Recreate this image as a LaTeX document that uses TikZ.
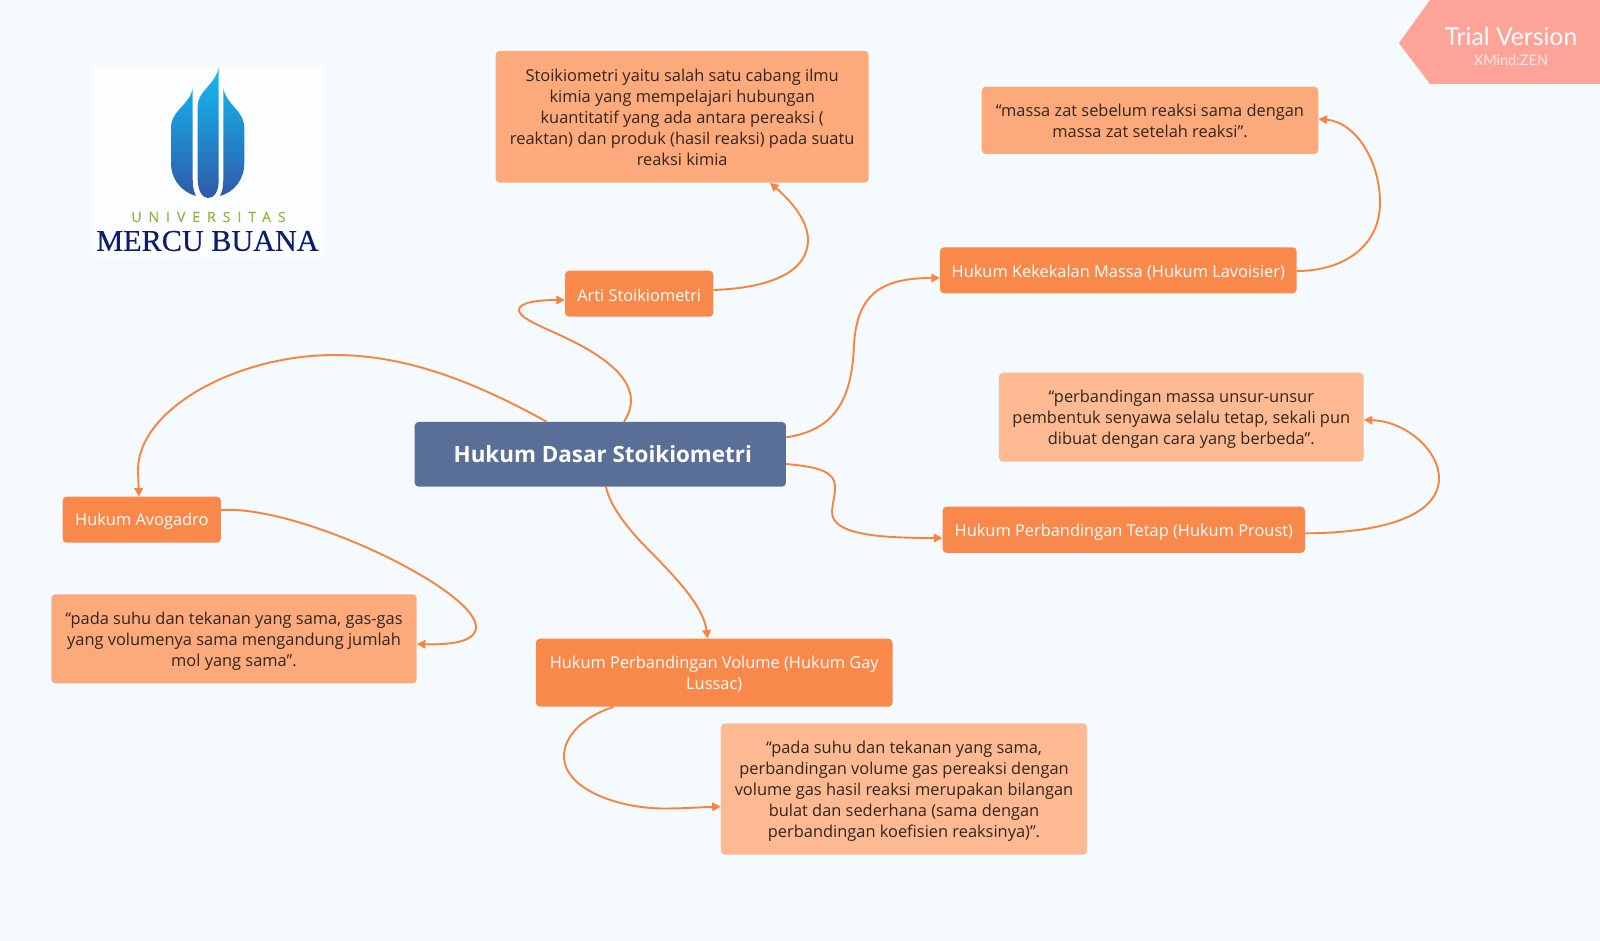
\documentclass[tikz,border=0pt]{standalone}
\usepackage{fontspec}
\usepackage{xcolor}
\setmainfont{Open Sans}
\newfontfamily\trialfont{Lato}
\newfontfamily\uniffont[LetterSpace=50,FakeBold=0.6]{Open Sans}
\newfontfamily\mercufont[FakeBold=0.5]{Liberation Serif}
\usetikzlibrary{arrows.meta,calc}
\definecolor{pagebg}{HTML}{F5FAFF}
\definecolor{rootblue}{HTML}{596F98}
\definecolor{subor}{HTML}{F9884B}
\definecolor{noteor}{HTML}{FCA97B}
\definecolor{notepale}{HTML}{FCB992}
\definecolor{linkor}{HTML}{F9833B}
\definecolor{inkbrown}{HTML}{33261E}
\definecolor{trialred}{HTML}{FDA399}
\definecolor{flametop}{HTML}{12BCF4}
\definecolor{flamemid}{HTML}{0F70BC}
\definecolor{flamelow}{HTML}{2F5AA8}
\definecolor{unigreen}{HTML}{8DBB3C}
\definecolor{mercunavy}{HTML}{0D1F6C}
\begin{document}
\begin{tikzpicture}[
            x=1pt, y=-1pt,
            rootbox/.style={fill=rootblue, text=white, rounded corners=4pt, inner sep=0pt, align=center,
              font=\fontsize{22.4}{30}\selectfont\bfseries},
            subbox/.style={fill=subor, text=white, rounded corners=4pt, inner sep=0pt, align=center,
              font=\fontsize{16.4}{21}\selectfont, execute at begin node={\rule{0pt}{16.5pt}}},
            notebox/.style={fill=noteor, text=inkbrown, rounded corners=4pt, inner sep=0pt, align=center,
              font=\fontsize{16.4}{21}\selectfont, text depth=0pt},
            palebox/.style={notebox, fill=notepale},
            link/.style={draw=linkor, line width=1.9pt, -{Triangle[length=8.5pt,width=8.5pt]}},
          ]
          \fill[pagebg] (0,0) rectangle (1600,941);
          \useasboundingbox (0,0) rectangle (1600,941);

          \fill[trialred] (1430,0) -- (1399,43) -- (1430,84) -- (1600,84) -- (1600,0) -- cycle;
          \node[text=white, font=\fontsize{24.7}{28}\selectfont\trialfont] (trial) at (1511,37) {Trial Version};
          \node[text=white!75!trialred, font=\fontsize{14.5}{16}\selectfont\trialfont] (xmind) at (1511,60) {XMind:ZEN};

          \fill[white!70!pagebg] (92,66) rectangle (324,258);
          \shade[top color=flametop, middle color=flamemid, bottom color=flamelow, shading angle=0]
            (218.7,66.7) .. controls (216,85) and (198,90) .. (197.7,106) -- (197.7,180)
              .. controls (198,192) and (203,198) .. (208,198) .. controls (214,198) and (218.7,192) .. (218.7,180) -- cycle
            (192.7,88) .. controls (190,105) and (171,110) .. (171,128) -- (171,163)
              .. controls (171,180) and (182,192) .. (196,196) .. controls (193,190) and (192.7,185) .. (192.7,178) -- cycle
            (223.3,88) .. controls (226,105) and (244.3,110) .. (244.3,128) -- (244.3,163)
              .. controls (244.3,180) and (234,192) .. (220,196) .. controls (223,190) and (223.3,185) .. (223.3,178) -- cycle;
          \node[text=unigreen, font=\fontsize{14}{15}\selectfont\uniffont] (unilabel) at (208.5,217) {UNIVERSITAS};
          \node[text=mercunavy, font=\fontsize{30.2}{34}\selectfont\mercufont] (mercu) at (207.5,241) {MERCU BUANA};

          \node[rootbox, minimum width=371.3pt, minimum height=64.7pt] (root) at (600.3,454.3) {\hspace*{5pt}Hukum Dasar Stoikiometri};
          \node[subbox, minimum width=148.3pt, minimum height=46pt] (arti) at (639.2,293.7) {Arti Stoikiometri};
          \node[notebox, text depth=-1pt, minimum width=373pt, minimum height=131.7pt] (artinote) at (682.2,116.8)
            {Stoikiometri yaitu salah satu cabang ilmu\\ kimia yang mempelajari hubungan\\ kuantitatif yang ada antara pereaksi (\\ reaktan) dan produk (hasil reaksi) pada suatu\\ reaksi kimia};
          \node[subbox, minimum width=356.7pt, minimum height=46pt] (lavoisier) at (1118.3,270.3) {Hukum Kekekalan Massa (Hukum Lavoisier)};
          \node[notebox, text depth=-2pt, minimum width=336.6pt, minimum height=67.3pt] (lavnote) at (1150,120.3)
            {“massa zat sebelum reaksi sama dengan\\ massa zat setelah reaksi”.};
          \node[subbox, minimum width=362.4pt, minimum height=46.3pt] (proust) at (1123.8,529.8) {Hukum Perbandingan Tetap (Hukum Proust)};
          \node[palebox, minimum width=364.7pt, minimum height=89pt] (proustnote) at (1181.3,417.2)
            {“perbandingan massa unsur-unsur\\ pembentuk senyawa selalu tetap, sekali pun\\ dibuat dengan cara yang berbeda”.};
          \node[subbox, minimum width=158.3pt, minimum height=46pt] (avogadro) at (141.8,519.7) {Hukum Avogadro};
          \node[notebox, minimum width=365.4pt, minimum height=89pt] (avonote) at (234,638.8)
            {“pada suhu dan tekanan yang sama, gas-gas\\ yang volumenya sama mengandung jumlah\\ mol yang sama”.};
          \node[subbox, text depth=0pt, minimum width=356.6pt, minimum height=68pt] (gay) at (714.2,672.7)
            {Hukum Perbandingan Volume (Hukum Gay\\ Lussac)};
          \node[palebox, minimum width=366.2pt, minimum height=131.4pt] (gaynote) at (904,789)
            {“pada suhu dan tekanan yang sama,\\ perbandingan volume gas pereaksi dengan\\ volume gas hasil reaksi merupakan bilangan\\ bulat dan sederhana (sama dengan\\ perbandingan koefisien reaksinya)”.};

          \draw[link] ([xshift=23.7pt]root.north) .. controls (638,400) and (634,375) .. (583,346.7)
            .. controls (555,331) and (519,320) .. (519,310) .. controls (519,302) and (540,300) .. ([yshift=-6.3pt]arti.west);
          \draw[link] ([yshift=3.7pt]arti.east) .. controls (770,288) and (808,272) .. (808,240)
            .. controls (808,220) and (790,200) .. ([xshift=87.8pt]artinote.south);
          \draw[link] ([xshift=-53.6pt]root.north) .. controls (480,385) and (410,355) .. (335,355)
            .. controls (235,355) and (138,410) .. (138,470) -- ([xshift=-2.8pt]avogadro.north);
          \draw[link] ([yshift=9.7pt]avogadro.east) .. controls (300,505) and (476,590) .. (476,627)
            .. controls (476,642) and (450,645) .. ([yshift=-5.2pt]avonote.east);
          \draw[link] ([yshift=17pt]root.east) .. controls (838,430) and (852,395) .. (854,345)
            .. controls (857,295) and (880,278) .. ([yshift=-7.7pt]lavoisier.west);
          \draw[link] ([yshift=-0.7pt]lavoisier.east) .. controls (1345,271) and (1380,245) .. (1380,203)
            .. controls (1380,160) and (1355,122) .. ([yshift=1.3pt]lavnote.east);
          \draw[link] ([yshift=-9.7pt]root.east) .. controls (820,467) and (835,472) .. (835,487)
            .. controls (835,498) and (832,505) .. (832,512) .. controls (832,535) and (880,538) .. ([yshift=-8.2pt]proust.west);
          \draw[link] ([yshift=-3.5pt]proust.east) .. controls (1385,533) and (1439,515) .. (1439,478)
            .. controls (1439,450) and (1405,421) .. ([yshift=-2.8pt]proustnote.east);
          \draw[link] ([xshift=5.7pt]root.south) .. controls (610,505) and (625,525) .. (642,543)
            .. controls (668,570) and (703,603) .. ([xshift=-6.6pt]gay.north);
          \draw[link] ([xshift=-100.6pt]gay.south) .. controls (585,716) and (564,735) .. (564,756)
            .. controls (564,790) and (620,808.5) .. (664,808.5) .. controls (685,808.5) and (705,807) .. ([yshift=-17.7pt]gaynote.west);
        \end{tikzpicture}
\end{document}
